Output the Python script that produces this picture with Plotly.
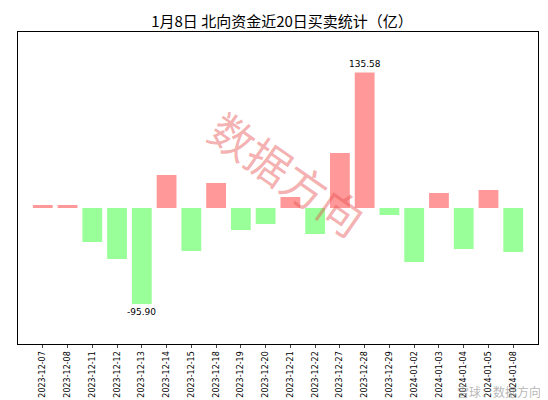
import plotly.graph_objects as go

dates = ["2023-12-07","2023-12-08","2023-12-11","2023-12-12","2023-12-13","2023-12-14","2023-12-15",
         "2023-12-18","2023-12-19","2023-12-20","2023-12-21","2023-12-22","2023-12-27","2023-12-28",
         "2023-12-29","2024-01-02","2024-01-03","2024-01-04","2024-01-05","2024-01-08"]
values = [3, 3, -34, -51, -95.90, 33, -43, 25, -22, -16, 11, -26, 55, 135.58, -7, -54, 15, -41, 18, -44]

colors = ["#ff9999" if v >= 0 else "#99ff99" for v in values]
fig = go.Figure(go.Bar(x=dates, y=values, marker=dict(color=colors, line=dict(width=0)), width=0.8))

imax = values.index(max(values)); imin = values.index(min(values))
fig.add_annotation(x=dates[imax], y=values[imax], text=f"{values[imax]:.2f}", showarrow=False,
                   yshift=8, font=dict(size=9, color="black"))
fig.add_annotation(x=dates[imin], y=values[imin], text=f"{values[imin]:.2f}", showarrow=False,
                   yshift=-8, font=dict(size=9, color="black"))
fig.add_annotation(x=0.5, y=0.5, xref="paper", yref="paper", text="数据方向", textangle=35,
                   showarrow=False, font=dict(size=44, color="rgba(230,80,80,0.45)",
                   family="Noto Sans CJK SC"), xshift=10, yshift=15)
fig.add_annotation(x=1.0, y=0.0, xref="paper", yref="paper", text="雪球：数据方向", showarrow=False,
                   yanchor="bottom", xanchor="right", xshift=5, yshift=-58,
                   font=dict(size=12, color="rgba(150,150,150,0.7)", family="Noto Sans CJK SC"))

fig.update_layout(
    width=548, height=400, plot_bgcolor="white", paper_bgcolor="white",
    margin=dict(l=10, r=18, t=24, b=62),
    title=dict(text="1月8日 北向资金近20日买卖统计（亿）", x=0.5, y=0.98, yanchor="top",
               font=dict(size=15, color="black", family="Noto Sans CJK SC")),
    xaxis=dict(type="category", tickangle=-90, tickfont=dict(size=8, color="black"),
               showline=True, mirror=True, linecolor="black", ticks="outside", ticklen=3,
               range=[-1, 20]),
    yaxis=dict(showticklabels=False, showgrid=False, zeroline=False, showline=True, mirror=True,
               linecolor="black", range=[-136, 176]),
    showlegend=False, font=dict(family="DejaVu Sans"),
)
fig.write_html("out.html")
